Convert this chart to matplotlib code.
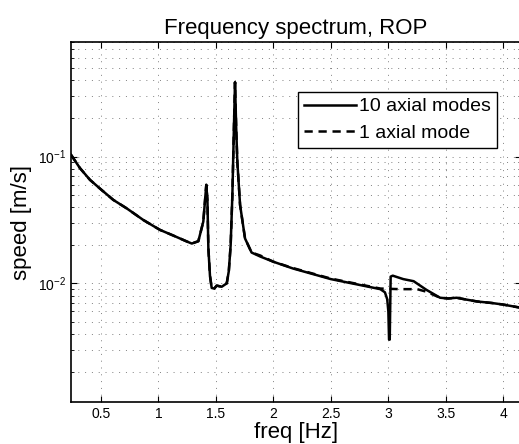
import numpy as np
import matplotlib
matplotlib.use("Agg")
from matplotlib import pyplot as plt
from matplotlib.ticker import LogLocator, NullFormatter, FixedLocator

plt.rcParams['font.family'] = ['Liberation Sans', 'DejaVu Sans']
plt.rcParams['mathtext.fontset'] = 'custom'
plt.rcParams['mathtext.rm'] = 'Liberation Sans'

# 10 axial modes
freq_10 = [0.24, 0.317, 0.404, 0.49, 0.607, 0.724, 0.868, 1.013, 1.13, 1.246,
           1.29, 1.347, 1.39, 1.405, 1.416, 1.426, 1.434, 1.448, 1.463, 1.485,
           1.507, 1.55, 1.594, 1.612, 1.628, 1.643, 1.655, 1.666, 1.676, 1.686,
           1.71, 1.753, 1.81, 1.884, 2.0, 2.17, 2.32, 2.5, 2.754, 2.93,
           2.97, 2.99, 3.0, 3.006, 3.012, 3.02, 3.038, 3.13, 3.22, 3.33,
           3.45, 3.52, 3.595, 3.66, 3.77, 3.9, 4.0, 4.16]
speed_10 = [0.103, 0.081, 0.0655, 0.056, 0.0455, 0.039, 0.0316, 0.0264, 0.0238, 0.0214,
            0.0206, 0.0215, 0.0307, 0.045, 0.0598, 0.045, 0.019, 0.0115, 0.0092, 0.0091,
            0.0096, 0.0094, 0.01, 0.0125, 0.02, 0.05, 0.15, 0.385, 0.17, 0.0913,
            0.0415, 0.0226, 0.0175, 0.0163, 0.0148, 0.0131, 0.012, 0.0108, 0.0097, 0.0090,
            0.0085, 0.0075, 0.006, 0.0036, 0.0036, 0.0113, 0.0115, 0.0108, 0.0104, 0.0089,
            0.0077, 0.0076, 0.0077, 0.0075, 0.0072, 0.0070, 0.0068, 0.0064]

# 1 axial mode
freq_1 = [0.24, 0.317, 0.404, 0.49, 0.607, 0.724, 0.868, 1.013, 1.13, 1.246,
          1.29, 1.347, 1.39, 1.405, 1.416, 1.426, 1.434, 1.448, 1.463, 1.485,
          1.507, 1.55, 1.594, 1.612, 1.628, 1.643, 1.655, 1.666, 1.676, 1.686,
          1.71, 1.753, 1.81, 1.884, 2.0, 2.17, 2.32, 2.5, 2.754, 2.93,
          3.1, 3.25, 3.33, 3.45, 3.52, 3.595, 3.66, 3.77, 3.9, 4.0, 4.16]
speed_1 = [0.103, 0.081, 0.0655, 0.056, 0.0455, 0.039, 0.0316, 0.0264, 0.0238, 0.0214,
           0.0206, 0.0215, 0.0307, 0.045, 0.0598, 0.045, 0.019, 0.0115, 0.0092, 0.0091,
           0.0096, 0.0094, 0.01, 0.0125, 0.02, 0.05, 0.15, 0.385, 0.17, 0.0913,
           0.0415, 0.0226, 0.0175, 0.0166, 0.0148, 0.0132, 0.0121, 0.0109, 0.0098, 0.0091,
           0.0090, 0.0090, 0.0086, 0.0077, 0.0076, 0.0077, 0.0075, 0.0072, 0.0070, 0.0068, 0.0064]

fig = plt.figure(figsize=(5.19, 4.44), dpi=100)
ax = fig.add_axes([71/519, 42/444, 450/519, 360/444])

ax.plot(freq_10, speed_10, '-', color='black', lw=1.8, label='10 axial modes')
ax.plot(freq_1, speed_1, color='black', lw=1.8, ls=(0, (3.3, 2.3)), label='1 axial mode')

ax.set_yscale('log')
ax.set_xlim(0.239, 4.154)
ax.set_ylim(0.00116, 0.8)

ax.xaxis.set_major_locator(FixedLocator([0.5, 1, 1.5, 2, 2.5, 3, 3.5, 4]))
ax.set_xticklabels(['0.5', '1', '1.5', '2', '2.5', '3', '3.5', '4'])
ax.yaxis.set_major_locator(FixedLocator([0.01, 0.1]))
ax.set_yticklabels([r'$\mathregular{10^{-2}}$', r'$\mathregular{10^{-1}}$'])
ax.yaxis.set_minor_locator(LogLocator(base=10, subs=np.arange(2, 10)))
ax.yaxis.set_minor_formatter(NullFormatter())

ax.tick_params(which='both', direction='in', top=True, right=True, labelsize=10)
ax.tick_params(which='major', length=4)
ax.tick_params(which='minor', length=2)

ax.grid(True, which='major', axis='both', ls=(0, (1, 6)), color='0.5', lw=0.7)
ax.grid(True, which='minor', axis='y', ls=(0, (1, 6)), color='0.5', lw=0.7)

for s in ax.spines.values():
    s.set_linewidth(1.2)

ax.set_title('Frequency spectrum, ROP', fontsize=16, pad=6)
ax.set_xlabel('freq [Hz]', fontsize=16, labelpad=1)
ax.set_ylabel('speed [m/s]', fontsize=16, labelpad=4)

leg = ax.legend(loc='upper left', bbox_to_anchor=((298-71)/450, (402-92)/360),
                borderaxespad=0, fontsize=14, handlelength=2.7, handletextpad=0.15,
                borderpad=0.3, labelspacing=0.45, fancybox=False,
                framealpha=1, edgecolor='black')
leg.get_frame().set_linewidth(1.0)

plt.savefig('out.png', dpi=100)
